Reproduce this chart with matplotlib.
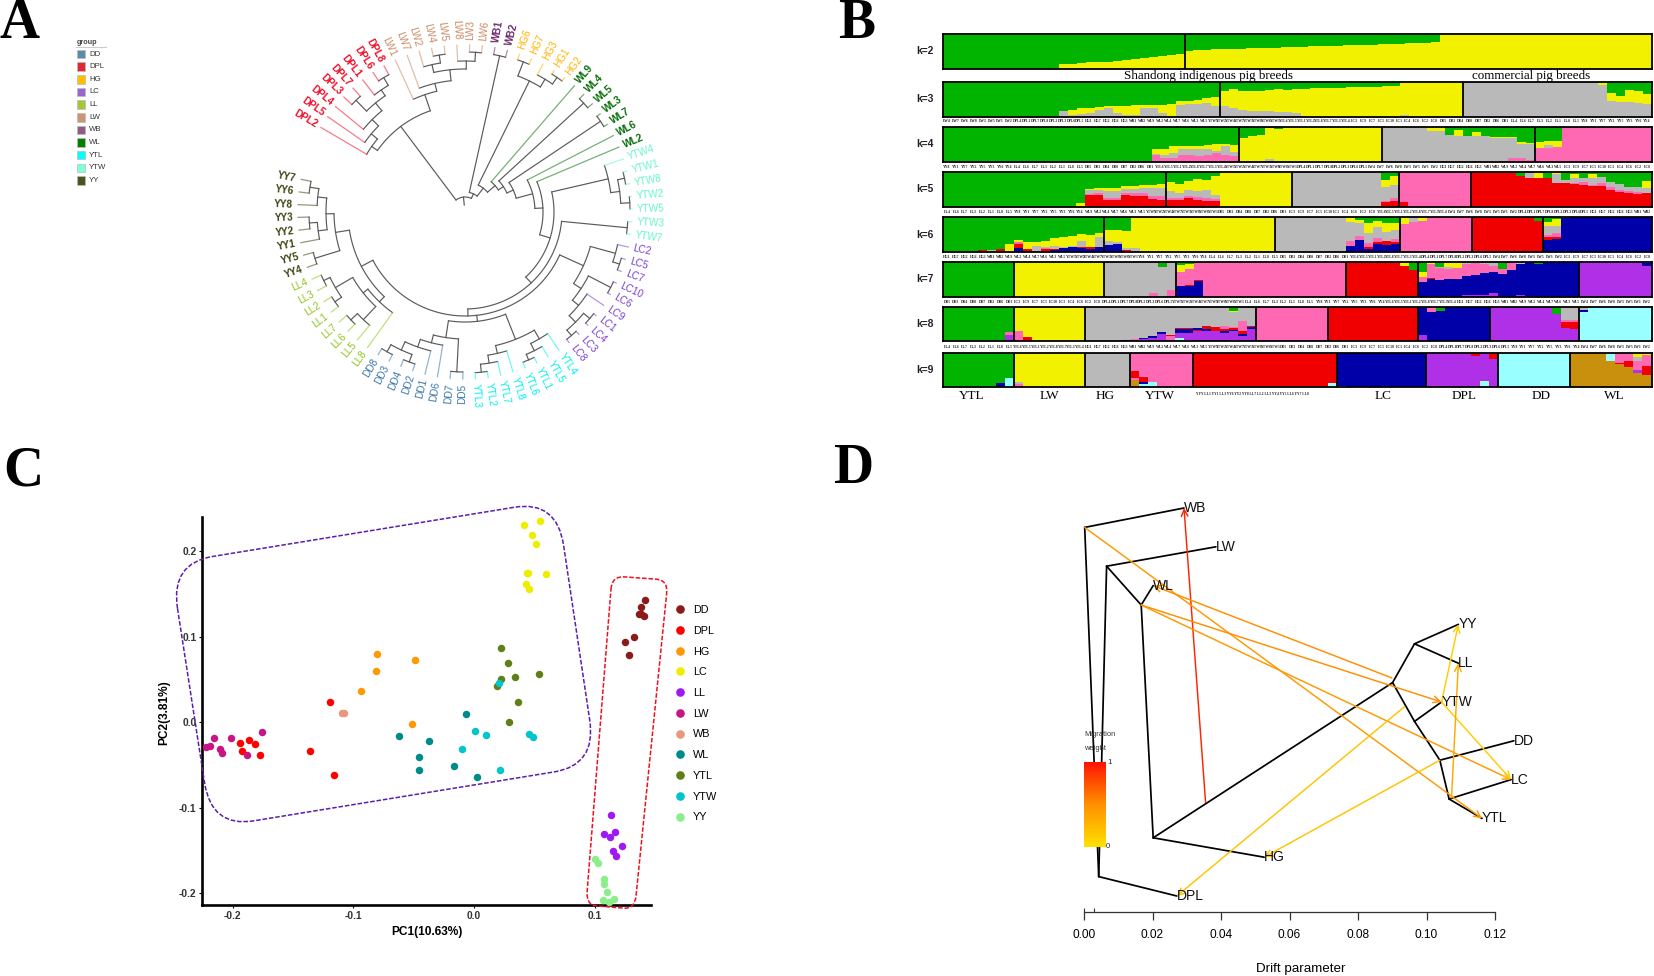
import numpy as np
import matplotlib
matplotlib.use('Agg')
import matplotlib.pyplot as plt
from matplotlib.patches import Rectangle, PathPatch
from matplotlib.path import Path
from matplotlib.colors import LinearSegmentedColormap
from matplotlib.lines import Line2D

plt.rcParams['font.family'] = ['Liberation Sans', 'DejaVu Sans']
W, H = 1654, 976
fig = plt.figure(figsize=(W / 100, H / 100), dpi=100, facecolor='white')


def rect(l, t, r, b):
    return [l / W, 1 - b / H, (r - l) / W, (b - t) / H]


# ---------------------------------------------------------------- Panel A
GROUP_NAMES = ['DD', 'DPL', 'HG', 'LC', 'LL', 'LW', 'WB', 'WL', 'YTL', 'YTW', 'YY']
GROUP_FILL = ['#5D8AA8', '#E32636', '#FFBF00', '#9966CC', '#A4C639', '#CD9575',
              '#915C83', '#008000', '#00FFFF', '#7FFFD4', '#4B5320']
GROUP_TEXT = ['#3A78A8', '#F0102A', '#FFB300', '#7A3FD0', '#8FC31F', '#C98A62',
              '#6E2C68', '#0A6E0A', '#00F0F0', '#66F5CC', '#3C4410']

DPL_CLADE = (107, [(114, ['DPL2', (122, ['DPL5', (131, ['DPL4', (141, [
    (156, ['DPL3', 'DPL7']),
    (148, ['DPL1', (157, ['DPL6', 'DPL8'])])])])])]),
    (124, ['LW1', (132, ['LW7', (143, [
        (151, ['LW2', (159, ['LW4', 'LW5'])]),
        (151, ['LW8', (160, ['LW3', 'LW6'])])])])])])
HG_CLADE = (146, [(161, ['HG6', 'HG7']), (155, ['HG3', (163, ['HG1', 'HG2'])])])
YTW_BIG = (147, ['YTW4', (156, [(163, ['YTW1', 'YTW8']), (165, ['YTW2', 'YTW5'])])])
LC_CLADE = (130, [(156, ['LC2', (163, ['LC5', 'LC7'])]),
                  (139, [(164, ['LC10', 'LC6']),
                         (147, ['LC9', (156, [(164, ['LC1', 'LC4']), (163, ['LC3', 'LC8'])])])])])
YTL_CLADE = (137, [(147, ['YTL4', (155, ['YTL5', (161, ['YTL1', 'YTL6'])])]),
                   (145, ['YTL8', (153, ['YTL7', (161, ['YTL2', 'YTL3'])])])])
DD_CLADE = (127, [(160, ['DD5', 'DD7']),
                  (135, ['DD6', (143, ['DD1', (152, [(160, ['DD2', 'DD4']), (160, ['DD3', 'DD8'])])])])])
LL_CLADE = (124, ['LL8', (130, [
    (148, ['LL5', (157, ['LL6', 'LL7'])]),
    (150, [(158, ['LL1', 'LL2']), (157, ['LL3', 'LL4'])])])])
YY_CLADE = (131, [(157, ['YY4', 'YY5']),
                  (139, [(148, ['YY1', (156, ['YY2', 'YY3'])]),
                         (148, ['YY8', (157, ['YY6', 'YY7'])])])])
LOWER = (104, [LC_CLADE, (110, [YTL_CLADE, DD_CLADE]), (117, [LL_CLADE, YY_CLADE])])
TREE = (15, [DPL_CLADE, (20, [(160, ['WB1', 'WB2']), (30, [HG_CLADE, (40, ['WL9', (46, [
    (161, ['WL4', 'WL5']), (53, [(163, ['WL3', 'WL7']), (70, ['WL6', (78, ['WL2', (89, [
        YTW_BIG, (97, [(163, ['YTW3', 'YTW7']), LOWER])])])])])])])])])])
TIP_RADIUS = 167
FIRST_ANGLE, ANGLE_STEP = 149.6, 4.37
ROOT_STUB = 7
BOLD_GROUPS = ['DPL', 'WL', 'YY', 'WB']

axA = fig.add_axes(rect(260, 7, 670, 417), projection='polar')
axA.set_ylim(0, 205)
axA.axis('off')
tip_counter = [0]


def group_of(name):
    return ''.join(ch for ch in name if not ch.isdigit())


def place(node):
    if isinstance(node, str):
        a = np.radians(FIRST_ANGLE - tip_counter[0] * ANGLE_STEP)
        tip_counter[0] += 1
        return {'name': node, 'a': a, 'r': TIP_RADIUS, 'kids': []}
    kids = [place(c) for c in node[1]]
    return {'name': None, 'a': (kids[0]['a'] + kids[-1]['a']) / 2, 'r': node[0], 'kids': kids}


def draw(n):
    if n['kids']:
        arc = np.linspace(n['kids'][0]['a'], n['kids'][-1]['a'], 40)
        axA.plot(arc, np.full(40, n['r']), color='#5a5a5a', lw=0.85, solid_capstyle='round')
        for k in n['kids']:
            if k['name']:
                grp = group_of(k['name'])
                c = GROUP_TEXT[GROUP_NAMES.index(grp)]
                axA.plot([k['a'], k['a']], [n['r'], k['r']], color=c, lw=0.9, alpha=0.55)
                deg = np.degrees(k['a'])
                right = np.cos(k['a']) >= 0
                axA.text(k['a'], k['r'] + 5, k['name'], color=c, fontsize=7.2,
                         rotation=deg if right else deg + 180,
                         ha='left' if right else 'right', va='center',
                         rotation_mode='anchor', clip_on=False,
                         fontweight='bold' if grp in BOLD_GROUPS else 'normal')
            else:
                axA.plot([k['a'], k['a']], [n['r'], k['r']], color='#5a5a5a', lw=0.85)
                draw(k)


root = place(TREE)
axA.plot([root['a'], root['a']], [ROOT_STUB, root['r']], color='#5a5a5a', lw=0.85)
draw(root)

# overlay in pixel space for free text and legend
ov = fig.add_axes([0, 0, 1, 1], zorder=10)
ov.set_xlim(0, W)
ov.set_ylim(H, 0)
ov.axis('off')
ov.patch.set_alpha(0)

ov.text(77, 42, 'group', fontsize=5.2, fontweight='bold', color='#444444', va='center')
ov.plot([76, 106], [47, 47], color='#cccccc', lw=0.8)
for i, (nm, col) in enumerate(zip(GROUP_NAMES, GROUP_FILL)):
    yc = 54 + i * 12.65
    ov.add_patch(Rectangle((76.5, yc - 4.3), 8.6, 8.6, facecolor=col, edgecolor='#bbbbbb', lw=0.5))
    ov.text(89, yc, nm, fontsize=5.6, color='#333333', va='center')

for letter, x, y in [('A', 0, 38), ('B', 838, 38), ('C', 3, 485), ('D', 833, 483)]:
    ov.text(x, y, letter, fontsize=40, fontweight='bold', family='Liberation Serif',
            color='black', va='baseline', ha='left')

# ---------------------------------------------------------------- Panel B
STRUCT_COLORS = {'G': '#00B400', 'Y': '#F2F200', 'S': '#B9B9B9', 'P': '#FF69B4', 'R': '#F00000',
                 'B': '#0000A8', 'V': '#B030E8', 'C': '#99FFFF', 'O': '#C8900C'}

K2_YELLOW_A = [.02, .13, .14, .17, .18, .19, .20, .22, .26, .28, .30, .33, .36, .40, .43]
K2_YELLOW_B = [.52, .54, .55, .56, .57, .57, .58, .59, .60, .60, .61, .62, .63, .63, .64, .65,
               .65, .66, .67, .67, .68, .69, .70, .71, .72, .73, .74, .75, .77]
K2 = [(27.3, [(12, 'G')] + [('Y', v, 'G') for v in K2_YELLOW_A]),
      (52.7, [('Y', v, 'G') for v in K2_YELLOW_B] + [(24, 'Y')])]

K3 = [(31.35, [(12, 'G'), ('S', .02, 'G'), ('S', .18, 'G'), ('S', .05, 'Y', .15, 'G'),
               ('S', .08, 'Y', .17, 'G'), ('S', .10, 'Y', .16, 'G'), ('S', .20, 'Y', .09, 'G'),
               ('S', .25, 'Y', .06, 'G'), ('S', .12, 'Y', .20, 'G'), ('S', .05, 'Y', .27, 'G'),
               ('S', .04, 'Y', .29, 'G'), ('S', .25, 'Y', .08, 'G'), ('S', .24, 'Y', .10, 'G'),
               ('S', .10, 'Y', .25, 'G'), ('S', .03, 'Y', .34, 'G'), ('S', .35, 'Y', .10, 'G'),
               ('S', .37, 'Y', .10, 'G'), ('S', .36, 'Y', .14, 'G'), ('S', .40, 'Y', .14, 'G'),
               ('S', .30, 'Y', .28, 'G')]),
      (27.35, [('S', .32, 'Y', .42, 'G'), ('S', .25, 'Y', .55, 'G'), ('S', .20, 'Y', .56, 'G'),
               ('S', .17, 'Y', .59, 'G'), ('S', .18, 'Y', .57, 'G'), ('S', .17, 'Y', .60, 'G'),
               ('S', .15, 'Y', .65, 'G'), ('S', .13, 'Y', .66, 'G'), ('S', .10, 'Y', .70, 'G'),
               ('S', .02, 'Y', .79, 'G'), ('Y', .82, 'G'), ('Y', .83, 'G'), ('Y', .84, 'G'),
               ('Y', .84, 'G'), ('Y', .85, 'G'), ('Y', .86, 'G'), ('Y', .87, 'G'), ('Y', .87, 'G'),
               ('Y', .88, 'G'), ('Y', .88, 'G'), ('S', .04, 'Y'), (6, 'Y')]),
      (21.3, [(15, 'S'), ('S', .92, 'Y'), ('S', .47, 'Y', .21, 'G'), ('S', .44, 'Y', .17, 'G'),
              ('S', .44, 'Y', .34, 'G'), ('S', .41, 'Y', .35, 'G'), ('S', .37, 'Y', .29, 'G')])]

K4 = [(33.4, [(24, 'G'), ('P', .19, 'S', .04, 'Y', .13, 'G'), ('P', .11, 'S', .09, 'Y', .18, 'G'),
              ('P', .10, 'S', .15, 'Y', .20, 'G'), ('P', .20, 'S', .18, 'Y', .08, 'G'),
              ('P', .18, 'S', .20, 'Y', .08, 'G'), ('P', .17, 'S', .20, 'Y', .08, 'G'),
              ('P', .20, 'S', .16, 'Y', .12, 'G'), ('P', .25, 'S', .05, 'Y', .20, 'G'),
              ('P', .18, 'S', .28, 'Y', .05, 'G'), ('P', .16, 'S', .12, 'Y', .20, 'G')]),
      (16.2, [('Y', .67, 'G'), ('S', .02, 'Y', .71, 'G'), ('S', .03, 'Y', .73, 'G'),
              ('S', .08, 'Y', .88, 'G'), ('Y', .95, 'G'), (11, 'Y')]),
      (17.2, [(4, 'S'), ('S', .97, 'Y'), ('S', .88, 'Y'), ('S', .88, 'Y'), ('S', .78, 'G'),
              ('S', .75, 'Y', .17, 'G'), ('S', .75, 'G'), ('P', .03, 'S', .72, 'Y', .12, 'G'),
              ('S', .73, 'G'), ('S', .67, 'Y', .05, 'G'), ('P', .03, 'S', .64, 'Y', .05, 'G'),
              ('P', .10, 'S', .57, 'Y', .03, 'G'), ('P', .10, 'S', .42, 'Y', .06, 'G'),
              ('P', .05, 'S', .45, 'Y', .05, 'G')]),
      (13.2, [('P', .40, 'Y', .18, 'G'), ('P', .40, 'S', .07, 'Y', .13, 'G'),
              ('P', .42, 'Y', .19, 'G'), (10, 'P')])]

K5 = [(25.2, [(15, 'G'), ('Y', .10, 'G'), ('R', .33, 'P', .03, 'S', .13, 'Y', .02, 'G'),
              ('R', .35, 'P', .05, 'S', .10, 'Y', .03, 'G'), ('R', .20, 'P', .06, 'S', .20, 'Y', .08, 'G'),
              ('R', .20, 'P', .06, 'S', .20, 'Y', .08, 'G'), ('R', .33, 'P', .08, 'S', .10, 'Y', .10, 'G'),
              ('R', .30, 'P', .10, 'S', .12, 'Y', .08, 'G'), ('R', .30, 'P', .10, 'S', .15, 'Y', .08, 'G'),
              ('R', .22, 'P', .10, 'S', .22, 'Y', .10, 'G'), ('R', .20, 'P', .10, 'S', .25, 'Y', .12, 'G')]),
      (14.2, [('R', .20, 'P', .05, 'S', .20, 'Y', .28, 'G'), ('R', .20, 'P', .05, 'S', .15, 'Y', .25, 'G'),
              ('R', .25, 'P', .05, 'S', .20, 'Y', .25, 'G'), ('R', .20, 'P', .07, 'S', .20, 'Y', .33, 'G'),
              ('R', .18, 'P', .07, 'S', .25, 'Y', .28, 'G'), ('R', .18, 'P', .05, 'S', .10, 'Y', .55, 'G'),
              (8, 'Y')]),
      (12.1, [(10, 'S'), ('R', .15, 'P', .03, 'S', .40, 'Y', .21, 'G'),
              ('R', .18, 'P', .07, 'S', .37, 'Y', .26, 'G')]),
      (8.2, [('R', .15, 'P'), (7, 'P')]),
      (20.35, [(5, 'R'), ('R', .90, 'G'), ('R', .83, 'S'), ('R', .83, 'Y'), ('R', .82, 'G'),
               ('R', .70, 'S', .25, 'Y'), ('R', .68, 'S', .10, 'G'), ('R', .65, 'P', .03, 'S', .15, 'Y', .12, 'G'),
               ('R', .63, 'P', .08, 'S', .12, 'G'), ('R', .60, 'P', .03, 'S', .20, 'Y', .13, 'G'),
               ('R', .60, 'P', .10, 'S', .15, 'G'), ('R', .48, 'P', .10, 'S', .14, 'G'),
               ('R', .43, 'P', .05, 'S', .17, 'G'), ('R', .40, 'P', .05, 'S', .12, 'G'),
               ('R', .38, 'P', .05, 'S', .15, 'G'), ('R', .40, 'S', .15, 'Y', .20, 'G')])]

K6 = [(18.2, [(4, 'G'), ('R', .05, 'G'), ('S', .05, 'G'), ('R', .08, 'G'), ('Y', .22, 'G'),
              ('B', .12, 'R', .10, 'P', .07, 'Y', .06, 'G'), ('B', .03, 'R', .05, 'Y', .20, 'G'),
              ('S', .18, 'Y', .10, 'G'), ('R', .08, 'P', .04, 'S', .03, 'Y', .17, 'G'),
              ('B', .05, 'R', .03, 'S', .10, 'Y', .22, 'G'), ('B', .12, 'S', .03, 'Y', .27, 'G'),
              ('B', .15, 'S', .03, 'Y', .27, 'G'), ('B', .10, 'R', .05, 'S', .15, 'Y', .22, 'G'),
              ('B', .08, 'R', .05, 'Y', .36, 'G'), ('B', .13, 'S', .30, 'Y', .12, 'G')]),
      (19.3, [('B', .20, 'S', .10, 'Y', .33, 'G'), ('B', .22, 'S', .07, 'Y', .35, 'G'),
              ('R', .06, 'S', .06, 'Y', .48, 'G'), ('S', .10, 'Y'), (15, 'Y')]),
      (14.1, [(8, 'S'), ('B', .18, 'P', .14, 'S', .54, 'Y'), ('B', .33, 'P', .12, 'S', .39, 'Y', .07, 'G'),
              ('B', .07, 'R', .07, 'P', .10, 'S', .30, 'Y', .30, 'G'),
              ('B', .22, 'R', .07, 'P', .10, 'S', .33, 'Y', .17, 'G'),
              ('B', .20, 'R', .10, 'S', .27, 'Y', .26, 'G'),
              ('B', .22, 'R', .07, 'P', .07, 'S', .28, 'Y', .18, 'G')]),
      (8.1, [('P', .80, 'Y'), ('P', .87, 'S'), ('P', .90, 'Y'), (5, 'P')]),
      (8.1, [(7, 'R'), ('R', .88, 'G')]),
      (12.2, [('B', .34, 'R', .08, 'P', .07, 'S', .26, 'Y', .10, 'G'),
              ('B', .36, 'R', .08, 'P', .10, 'S', .21, 'Y', .20, 'G'),
              ('B', .97, 'S'), (9, 'B')])]

K7 = [(8.03, [(8, 'G')]),
      (10.17, [('Y', .98, 'G'), (9, 'Y')]),
      (8.1, [(5, 'S'), ('P', .10, 'S'), ('S', .85, 'G'), ('P', .20, 'S')]),
      (19.2, [('B', .30, 'R', .02, 'P', .38, 'Y', .20, 'G'), ('B', .30, 'R', .03, 'P', .45, 'Y', .15, 'G'),
              ('B', .45, 'R', .03, 'P', .47, 'G'), ('P', .95, 'G'), (15, 'P')]),
      (8.1, [(6, 'R'), ('R', .88, 'Y'), ('R', .75, 'G')]),
      (18.2, [('B', .43, 'P', .13, 'Y', .15, 'G'), ('V', .03, 'B', .48, 'R', .03, 'P', .40, 'Y'),
              ('V', .03, 'B', .46, 'P', .33, 'S', .03, 'G'), ('V', .02, 'B', .48, 'P', .30, 'S', .05, 'Y'),
              ('B', .50, 'P', .33, 'Y', .14, 'S'), ('V', .04, 'B', .56, 'P', .33, 'S', .03, 'Y'),
              ('V', .04, 'B', .58, 'P', .34, 'S'), ('V', .05, 'B', .62, 'P', .27, 'S'),
              ('V', .10, 'B', .60, 'P', .18, 'S'), ('V', .02, 'B', .62, 'P', .15, 'G'),
              ('B', .77, 'P', .21, 'S'), ('V', .06, 'B', .88, 'S'), ('V', .03, 'B', .95, 'S'),
              ('B', .93, 'G'), (4, 'B')]),
      (8.2, [(7, 'V'), ('V', .88, 'B', .07, 'S')])]

K8 = [(8.03, [(7, 'G'), ('V', .18, 'P', .10, 'G')]),
      (8.07, [('P', .30, 'Y'), ('R', .13, 'Y'), (6, 'Y')]),
      (19.3, [(4, 'S'), ('B', .03, 'S'), ('P', .08, 'S'), ('C', .03, 'V', .03, 'B', .03, 'S'),
              ('V', .10, 'B', .05, 'S', .82, 'G'), ('V', .22, 'B', .05, 'S'), ('P', .15, 'R', .02, 'S', .80, 'G'),
              ('C', .10, 'V', .15, 'B', .10, 'R', .03, 'S'), ('C', .05, 'V', .20, 'B', .10, 'R', .03, 'S'),
              ('V', .30, 'R', .03, 'B', .05, 'S', .59, 'Y'), ('V', .30, 'B', .05, 'R', .10, 'S'),
              ('V', .30, 'R', .12, 'S'), ('V', .25, 'B', .05, 'R', .05, 'P', .10, 'S'),
              ('C', .03, 'V', .28, 'B', .03, 'R', .03, 'P', .05, 'S', .44, 'Y', .02, 'G'),
              ('V', .15, 'B', .05, 'R', .10, 'P', .28, 'S'), ('V', .35, 'B', .05, 'R', .05, 'S', .50, 'Y', .02, 'G')]),
      (8.1, [(8, 'P')]),
      (10.1, [(9, 'R'), ('R', .97, 'P')]),
      (8.2, [('V', .17, 'B', .80, 'P'), ('B', .85, 'P'), ('B', .88, 'G'), (5, 'B')]),
      (10.0, [(7, 'V'), ('V', .80, 'G'), ('V', .38, 'R', .18, 'P', .07, 'S', .34, 'Y'),
              ('V', .35, 'R', .20, 'P', .06, 'S', .35, 'Y')]),
      (8.2, [('C', .85, 'B', .05, 'S'), (7, 'C')])]

K9 = [(8.03, [(6, 'G'), ('B', .13, 'G'), ('C', .28, 'G')]),
      (8.07, [('V', .05, 'P', .05, 'S', .05, 'Y'), (7, 'Y')]),
      (5.1, [(5, 'S')]),
      (7.1, [('O', .22, 'P', .05, 'R', .20, 'P'), ('C', .10, 'B', .05, 'R', .15, 'P'), ('C', .16, 'P'), (4, 'P')]),
      (16.2, [(15, 'R'), ('C', .12, 'R')]),
      (10.1, [('C', .03, 'B'), (9, 'B')]),
      (8.1, [(5, 'V'), ('V', .90, 'R'), ('C', .17, 'V'), ('V', .82, 'R')]),
      (8.1, [(8, 'C')]),
      (9.2, [(4, 'O'), ('O', .75, 'C'), ('O', .67, 'R', .03, 'P'), ('O', .60, 'R', .15, 'P'),
             ('O', .42, 'V', .08, 'P', .25, 'S', .12, 'Y'), ('O', .35, 'R', .28, 'P', .30, 'Y', .05, 'G')])]

ROW_LABELS = ['k=2', 'k=3', 'k=4', 'k=5', 'k=6', 'k=7', 'k=8', 'k=9']
ROW_DATA = [K2, K3, K4, K5, K6, K7, K8, K9]
ROW_TOP = [34, 82.3, 127, 172.3, 217.3, 261.7, 306.7, 352.7]
ROW_BOTTOM = [68.7, 116.7, 161.7, 206.7, 251.7, 296.7, 341.3, 387.3]
STRUCT_LEFT, STRUCT_RIGHT = 942.6, 1651.5


def expand(cols):
    out = []
    for c in cols:
        if isinstance(c, str):
            out.append(((c, 1.0),))
        elif isinstance(c[0], int):
            out.extend([((c[1], 1.0),)] * c[0])
        else:
            segs, used = [], 0.0
            for j in range(0, len(c) - 1, 2):
                segs.append((c[j], c[j + 1]))
                used += c[j + 1]
            if len(c) % 2:
                segs.append((c[-1], max(0.0, 1 - used)))
            out.append(tuple(segs))
    return out


for lab, groups, top, bot in zip(ROW_LABELS, ROW_DATA, ROW_TOP, ROW_BOTTOM):
    ax = fig.add_axes(rect(STRUCT_LEFT, top, STRUCT_RIGHT, bot))
    total = sum(g[0] for g in groups)
    x = 0.0
    for gi, (gw, cols) in enumerate(groups):
        cl = expand(cols)
        w = gw / len(cl)
        for j, segs in enumerate(cl):
            b = 0.0
            for col, f in segs:
                ax.bar(x + j * w, f, w, bottom=b, align='edge', color=STRUCT_COLORS[col],
                       linewidth=0, antialiased=False)
                b += f
        x += gw
        if gi < len(groups) - 1:
            ax.axvline(x, color='black', lw=1.3)
    ax.set_xlim(0, total)
    ax.set_ylim(0, 1)
    ax.set_xticks([])
    ax.set_yticks([])
    for s in ax.spines.values():
        s.set_linewidth(1.3)
        s.set_color('black')
    ov.text(925, (top + bot) / 2, lab, fontsize=7.4, fontweight='bold', ha='center', va='center', color='#222222')

ov.text(1209, 75.5, 'Shandong indigenous pig breeds', family='Liberation Serif', fontsize=9.4,
        ha='center', va='center', color='black')
ov.text(1531, 75.5, 'commercial pig breeds', family='Liberation Serif', fontsize=9.4,
        ha='center', va='center', color='black')

BOTTOM_NAMES = ['YTL', 'LW', 'HG', 'YTW', 'LC', 'DPL', 'DD', 'WL']
BOTTOM_X = [972, 1049, 1105, 1160, 1383, 1464, 1541, 1614]
for nm, xp in zip(BOTTOM_NAMES, BOTTOM_X):
    ov.text(xp, 396, nm, family='Liberation Serif', fontsize=9.5, ha='center', va='center')
ov.text(1252, 394, 'YYY LL1 YY1 LL3 YY6 YY2 YY8 LL7 LL2 LL3 YY4 YY5 LL6 YY7 LL8', family='Liberation Serif',
        fontsize=2.6, fontweight='bold', ha='center', va='center', color='#222222')

BREED_SAMPLES = {
    'DD': ['DD5', 'DD3', 'DD4', 'DD8', 'DD7', 'DD2', 'DD6', 'DD1'],
    'DPL': ['DPL4', 'DPL1', 'DPL7', 'DPL8', 'DPL2', 'DPL3', 'DPL6', 'DPL5'],
    'HG': ['HG1', 'HG7', 'HG2', 'HG6', 'HG3'],
    'LC': ['LC3', 'LC9', 'LC7', 'LC5', 'LC10', 'LC1', 'LC4', 'LC6', 'LC2', 'LC8'],
    'LL': ['LL4', 'LL6', 'LL7', 'LL3', 'LL2', 'LL1', 'LL8', 'LL5'],
    'LW': ['LW4', 'LW7', 'LW6', 'LW8', 'LW3', 'LW5', 'LW1', 'LW2'],
    'WB': ['WB1', 'WB2'],
    'WL': ['WL9', 'WL2', 'WL4', 'WL7', 'WL6', 'WL3', 'WL5'],
    'YTL': ['YTL6', 'YTL5', 'YTL1', 'YTL2', 'YTL8', 'YTL7', 'YTL3', 'YTL4'],
    'YTW': ['YTW5', 'YTW2', 'YTW4', 'YTW7', 'YTW3', 'YTW8', 'YTW6', 'YTW1'],
    'YY': ['YY8', 'YY1', 'YY7', 'YY2', 'YY5', 'YY3', 'YY6', 'YY4'],
}
SAMPLE_ROW_Y = [121.3, 166.7, 211.7, 256.7, 301.7, 346.7]
SAMPLE_ROW_ORDER = [
    ['LW', 'DPL', 'HG', 'WB', 'WL', 'YTW', 'YTL', 'LC', 'DD', 'LL', 'YY'],
    ['YY', 'LL', 'DD', 'YTL', 'YTW', 'DPL', 'LW', 'HG', 'WB', 'WL', 'LC'],
    ['LL', 'YY', 'WL', 'YTW', 'DD', 'LC', 'YTL', 'LW', 'DPL', 'HG', 'WB'],
    ['HG', 'WB', 'WL', 'YTW', 'YY', 'LL', 'DD', 'YTL', 'DPL', 'LW', 'LC'],
    ['DD', 'LC', 'DPL', 'YTW', 'LL', 'YY', 'YTL', 'HG', 'WB', 'WL', 'LW'],
    ['LL', 'YTL', 'HG', 'WB', 'WL', 'YTW', 'DD', 'LC', 'DPL', 'YY', 'LW'],
]
col_w = (STRUCT_RIGHT - STRUCT_LEFT) / 80
for yp, order in zip(SAMPLE_ROW_Y, SAMPLE_ROW_ORDER):
    names = [s for g in order for s in BREED_SAMPLES[g]][:80]
    for i, s in enumerate(names):
        ov.text(STRUCT_LEFT + (i + .5) * col_w, yp, s, family='Liberation Serif', fontsize=2.7,
                fontweight='bold', ha='center', va='center', color='#222222')

# ---------------------------------------------------------------- Panel C
PCA_GROUPS = ['DD', 'DPL', 'HG', 'LC', 'LL', 'LW', 'WB', 'WL', 'YTL', 'YTW', 'YY']
PCA_COLORS = ['#8B1A1A', '#FF0000', '#FF9900', '#EEEE00', '#9B1AF5', '#C71585', '#E9967A',
              '#008B8B', '#5E8014', '#00C5CD', '#8BEE8B']
PC1 = {
    'DD': [.1420, .1387, .1369, .1405, .1328, .1254, .1287, .1380],
    'DPL': [-.1190, -.1939, -.1862, -.1814, -.1921, -.1776, -.1359, -.1157],
    'HG': [-.0803, -.0811, -.0933, -.0492, -.0513],
    'LC': [.0417, .0547, .0476, .0511, .0449, .0594, .0428, .0452, .0440],
    'LL': [.1133, .1080, .1130, .1171, .1225, .1153, .1180],
    'LW': [-.2217, -.2190, -.2155, -.2012, -.1755, -.2107, -.2089, -.1880],
    'WB': [-.1092, -.1074],
    'WL': [-.0625, -.0376, -.0459, -.0456, -.0169, .0023, -.0066],
    'YTL': [.0227, .0278, .0227, .0340, .0192, .0541, .0366, .0292],
    'YTW': [.0210, .0011, .0100, -.0101, .0452, .0491, .0212],
    'YY': [.1006, .1026, .1073, .1075, .1100, .1072, .1160, .1115],
}
PC2 = {
    'DD': [.1423, .1341, .1267, .1244, .0990, .0932, .0784, .1260],
    'DPL': [.0238, -.0249, -.0210, -.0261, -.0339, -.0386, -.0335, -.0620],
    'HG': [.0795, .0593, .0367, .0725, -.0019],
    'LC': [.2304, .2355, .2183, .2086, .1739, .1735, .1614, .1552, .1745],
    'LL': [-.1091, -.1306, -.1345, -.1283, -.1446, -.1505, -.1563],
    'LW': [-.0292, -.0281, -.0191, -.0191, -.0121, -.0316, -.0366, -.0390],
    'WB': [.0101, .0101],
    'WL': [-.0160, -.0226, -.0409, -.0565, -.0511, -.0647, .0090],
    'YTL': [.0869, .0694, .0503, .0530, .0421, .0558, .0230, .0004],
    'YTW': [.0452, -.0105, -.0152, -.0312, -.0140, -.0179, -.0565],
    'YY': [-.1602, -.1653, -.1840, -.1899, -.1992, -.2082, -.2070, -.2105],
}
axC = fig.add_axes(rect(202, 517, 651, 905))
axC.set_xlim(-.2254, .1466)
axC.set_ylim(-.214, .2398)
for g, c in zip(PCA_GROUPS, PCA_COLORS):
    axC.scatter(PC1[g], PC2[g], s=29, color=c, linewidths=0, clip_on=False, zorder=3)
for s in ('top', 'right'):
    axC.spines[s].set_visible(False)
for s in ('left', 'bottom'):
    axC.spines[s].set_linewidth(1.9)
axC.set_xticks([-.2, -.1, 0, .1])
axC.set_xticklabels(['-0.2', '-0.1', '0.0', '0.1'])
axC.set_yticks([-.2, -.1, 0, .1, .2])
axC.set_yticklabels(['-0.2', '-0.1', '0.0', '0.1', '0.2'])
axC.tick_params(length=2.5, width=0.8, labelsize=7.4, labelcolor='#333333', pad=1.5)
for t in axC.get_xticklabels() + axC.get_yticklabels():
    t.set_fontweight('bold')
axC.set_xlabel('PC1(10.63%)', fontsize=8.6, fontweight='bold', labelpad=4)
axC.set_ylabel('PC2(3.81%)', fontsize=8.6, fontweight='bold')
axC.yaxis.set_label_coords(-.07, .495)
handles = [Line2D([], [], marker='o', ls='', ms=6.2, mfc=c, mec='none') for c in PCA_COLORS]
axC.legend(handles, PCA_GROUPS, loc='upper left', bbox_to_anchor=(1.041, .773), frameon=False, fontsize=7.8,
           labelspacing=.99, handletextpad=.2, borderpad=0, borderaxespad=0)

PURPLE_BOX_X = [-.2515, .0686, .1014, -.2175]
PURPLE_BOX_Y = [.1856, .2593, -.0503, -.1236]
RED_BOX_X = [.1143, .1607, .1331, .0928]
RED_BOX_Y = [.1708, .1661, -.2187, -.2140]


def rounded_path(xs, ys, fracs):
    p = np.column_stack([xs, ys])
    n = len(p)
    verts, codes = [], []
    for i in range(n):
        prev, cur, nxt = p[i - 1], p[i], p[(i + 1) % n]
        a = cur + (prev - cur) * fracs[i - 1]
        b = cur + (nxt - cur) * fracs[i]
        verts.append(a)
        codes.append(Path.MOVETO if i == 0 else Path.LINETO)
        verts += [cur, b]
        codes += [Path.CURVE3, Path.CURVE3]
    verts.append(verts[0])
    codes.append(Path.LINETO)
    return Path(np.array(verts), codes)


axC.add_patch(PathPatch(rounded_path(PURPLE_BOX_X, PURPLE_BOX_Y, [.11, .17, .11, .17]), fill=False,
                        edgecolor='#5B1FA8', lw=1.1, ls=(0, (3, 1.2)), clip_on=False, zorder=4))
axC.add_patch(PathPatch(rounded_path(RED_BOX_X, RED_BOX_Y, [.22, .04, .22, .04]), fill=False,
                        edgecolor='#F01020', lw=1.1, ls=(0, (3, 1.2)), clip_on=False, zorder=4))

# ---------------------------------------------------------------- Panel D
DRIFT_LEAF = {'WB': .0292, 'LW': .0385, 'WL': .0202, 'YY': .1093, 'LL': .1093, 'YTW': .1044,
              'DD': .1255, 'LC': .1247, 'YTL': .1162, 'HG': .0526, 'DPL': .0271}
RANK_LEAF = {'WB': 11, 'LW': 10, 'WL': 9, 'YY': 8, 'LL': 7, 'YTW': 6, 'DD': 5, 'LC': 4, 'YTL': 3, 'HG': 2, 'DPL': 1}
DRIFT_NODE = {'N0': .0043, 'A': .0002, 'B': .0066, 'C': .0167, 'E': .0202, 'F': .0901, 'G': .0965,
              'I': .0965, 'H': .1039, 'J': .1066}
RANK_NODE = {'N0': 1.5, 'A': 10.5, 'B': 9.5, 'C': 8.5, 'E': 2.5, 'F': 6.5, 'G': 7.5, 'I': 5.5, 'H': 4.5, 'J': 3.5}
EDGES = [('N0', 'DPL'), ('N0', 'A'), ('N0', 'B'), ('A', 'WB'), ('B', 'LW'), ('B', 'C'), ('C', 'WL'), ('C', 'E'),
         ('E', 'HG'), ('E', 'F'), ('F', 'G'), ('G', 'YY'), ('G', 'LL'), ('F', 'I'), ('I', 'YTW'), ('I', 'H'),
         ('H', 'DD'), ('H', 'J'), ('J', 'LC'), ('J', 'YTL')]
# migration: start drift, start rank, destination leaf, weight
MIGRATION = [(.0355, 3.41, 'WB', .92), (.0002, 10.5, 'YTL', .45), (.0899, 6.62, 'WL', .50),
             (.0167, 8.5, 'YTW', .50), (.0167, 8.5, 'LC', .45), (.1044, 6.0, 'YY', .12),
             (.1044, 6.0, 'LC', .12), (.1073, 3.53, 'LL', .35), (.0936, 5.88, 'DPL', .18),
             (.1039, 4.5, 'HG', .18)]
WEIGHT_CMAP = LinearSegmentedColormap.from_list('mig', ['#FFE000', '#FF9000', '#FF1000'])

axD = fig.add_axes(rect(1060, 488, 1530, 911.7))
axD.set_xlim((1060 - 1084) / 3425, (1530 - 1084) / 3425)
axD.set_ylim(1 + (896 - 911.7) / 38.8, 1 + (896 - 488) / 38.8)


def pos(key):
    if key in DRIFT_LEAF:
        return DRIFT_LEAF[key], RANK_LEAF[key]
    return DRIFT_NODE[key], RANK_NODE[key]


for a, b in EDGES:
    (x0, y0), (x1, y1) = pos(a), pos(b)
    axD.plot([x0, x1], [y0, y1], color='black', lw=1.25, solid_capstyle='round', zorder=2)
for sx, sy, leaf, w in MIGRATION:
    axD.annotate('', xy=pos(leaf), xytext=(sx, sy), zorder=3,
                 arrowprops=dict(arrowstyle='->', color=WEIGHT_CMAP(w), lw=1.05, mutation_scale=12,
                                 shrinkA=0, shrinkB=0))
for leaf in DRIFT_LEAF:
    axD.text(DRIFT_LEAF[leaf], RANK_LEAF[leaf], leaf, fontsize=10, ha='left', va='center', color='#111111', zorder=4)
for s in ('top', 'right', 'left'):
    axD.spines[s].set_visible(False)
axD.spines['bottom'].set_bounds(0, .12)
axD.spines['bottom'].set_linewidth(.9)
axD.spines['bottom'].set_color('#333333')
axD.set_yticks([])
axD.set_xticks([0, .02, .04, .06, .08, .10, .12])
axD.set_xticklabels(['0.00', '0.02', '0.04', '0.06', '0.08', '0.10', '0.12'])
axD.tick_params(axis='x', length=5.5, width=.9, labelsize=8.6, pad=7, color='#333333')
axD.set_xlabel('Drift parameter', fontsize=9.6, labelpad=16, x=(1301 - 1060) / 470)
SCALE_MARK = [0.0, .003]
axD.vlines(SCALE_MARK, .595, .70, color='#333333', lw=.8)

axBar = fig.add_axes(rect(1084, 761.7, 1106, 847.3), zorder=5)
axBar.imshow(np.linspace(1, 0, 128).reshape(-1, 1), aspect='auto', cmap=WEIGHT_CMAP, vmin=0, vmax=1)
axBar.axis('off')
ov.text(1084, 735, 'Migration', fontsize=5.4, color='#333333', va='center')
ov.text(1084, 748, 'weight', fontsize=5.4, color='#333333', va='center')
ov.text(1107, 762, '1', fontsize=5.6, color='#222222', va='center')
ov.text(1106, 847, '0', fontsize=5.6, color='#222222', va='center')

fig.savefig('out.png', dpi=100, facecolor='white')
